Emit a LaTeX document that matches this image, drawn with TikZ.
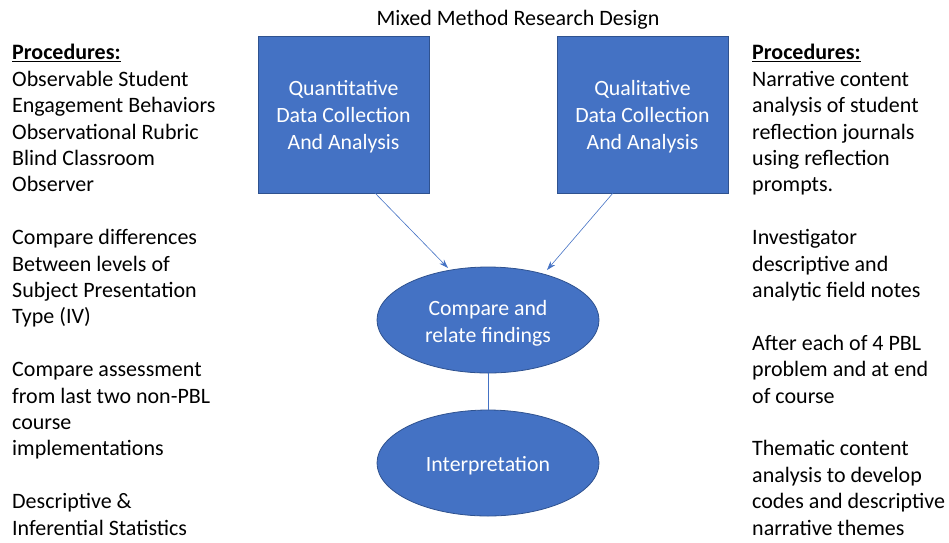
\documentclass[tikz,border=0pt]{standalone}
\usepackage{fontspec}
\setmainfont{Carlito}
\usetikzlibrary{shapes.geometric,arrows.meta}
\definecolor{boxfill}{HTML}{4472C4}
\definecolor{boxline}{HTML}{2F528F}
\definecolor{conn}{HTML}{4472C4}
\begin{document}
\begin{tikzpicture}[x=1pt,y=-1pt,
  blockbox/.style={draw=boxline,line width=0.8pt,fill=boxfill,minimum width=171pt,minimum height=157pt,inner sep=0pt},
  ellbox/.style={ellipse,draw=boxline,line width=0.8pt,fill=boxfill,minimum width=222pt,minimum height=106pt,inner sep=0pt},
  intext/.style={text=white,inner sep=0pt,align=center,font=\fontsize{21.8}{27}\selectfont},
  coltext/.style={anchor=base west,align=left,inner sep=0pt,font=\fontsize{22}{26.4}\selectfont},
  conn/.style={draw=conn,line width=0.6pt},
  arr/.style={conn,-{Stealth[length=9pt,width=6pt]}}]
\useasboundingbox (0,0) rectangle (949,542);
\node[anchor=base,inner sep=0pt,font=\fontsize{22}{24}\selectfont] (title) at (518,25) {Mixed Method Research Design};
\node[blockbox] (quant) at (343.5,114.5) {};
\node[intext] (quantt) at (343.5,117) {Quantitative\\Data Collection\\And Analysis};
\node[blockbox] (qual) at (642.5,114.5) {};
\node[intext] (qualt) at (642.5,117) {Qualitative\\Data Collection\\And Analysis};
\node[ellbox] (cmp) at (488,320) {};
\node[intext] (cmpt) at (488,323) {Compare and\\relate findings};
\node[ellbox] (interp) at (488,463) {};
\node[intext] (interpt) at (488,466) {Interpretation};
\coordinate (qa) at (375,193);
\coordinate (qb) at (613,193);
\draw[arr] (qa) -- (448,268);
\draw[arr] (qb) -- (547,270);
\draw[conn] (cmp.south) -- (interp.north);
\node[coltext] (left) at (12,535) {\underline{\textbf{Procedures:}}\\Observable Student\\Engagement Behaviors\\Observational Rubric\\Blind Classroom\\Observer\\[26.4pt]Compare differences\\Between levels of\\Subject Presentation\\Type (IV)\\[26.4pt]Compare assessment\\from last two non-PBL\\course\\implementations\\[26.4pt]Descriptive \&\\Inferential Statistics};
\node[coltext] (right) at (752,535) {\underline{\textbf{Procedures:}}\\Narrative content\\analysis of student\\reflection journals\\using reflection\\prompts.\\[26.4pt]Investigator\\descriptive and\\analytic field notes\\[26.4pt]After each of 4 PBL\\problem and at end\\of course\\[26.4pt]Thematic content\\analysis to develop\\codes and descriptive\\narrative themes};
\end{tikzpicture}
\end{document}
